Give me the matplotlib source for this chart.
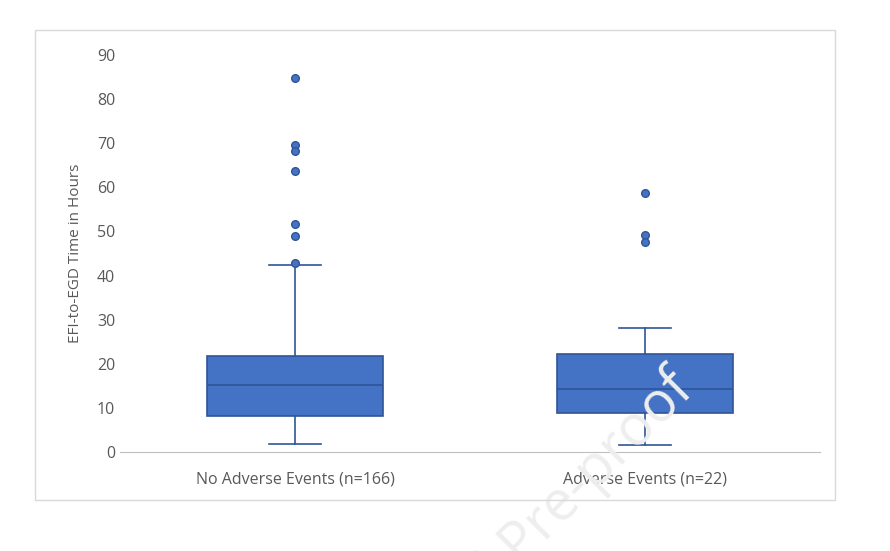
import matplotlib
matplotlib.use("Agg")
import matplotlib.pyplot as plt
from matplotlib.patches import Rectangle

# Box plot summary values (hours)
groups = ["No Adverse Events (n=166)", "Adverse Events (n=22)"]
q1 = [8.1, 8.8]
medians = [15.3, 14.3]
q3 = [21.8, 22.3]
whisker_lo = [1.8, 1.5]
whisker_hi = [42.3, 28.0]
outliers = [
    [84.8, 69.7, 68.2, 63.8, 51.8, 49.0, 42.8],
    [58.8, 49.2, 47.5],
]

FILL = "#4472C4"
EDGE = "#2F5597"
TEXT = "#595959"

plt.rcParams["font.family"] = ["Open Sans", "DejaVu Sans"]

fig = plt.figure(figsize=(8.9, 5.51), dpi=100)
ax = fig.add_axes([120 / 890, 1 - 452 / 551, 700 / 890, 397 / 551])

stats = []
for i, name in enumerate(groups):
    stats.append({
        "label": name, "q1": q1[i], "med": medians[i], "q3": q3[i],
        "whislo": whisker_lo[i], "whishi": whisker_hi[i], "fliers": outliers[i],
    })

ax.bxp(stats, positions=[1, 2], widths=0.505, patch_artist=True,
       boxprops=dict(facecolor=FILL, edgecolor=EDGE, linewidth=1.2),
       medianprops=dict(color=EDGE, linewidth=1.2),
       whiskerprops=dict(color=EDGE, linewidth=1.2),
       capprops=dict(color=EDGE, linewidth=1.2),
       capwidths=0.15,
       flierprops=dict(marker="o", markerfacecolor=FILL, markeredgecolor=EDGE,
                       markersize=5.5))

ax.set_xlim(0.5, 2.5)
ax.set_ylim(0, 90)
ax.set_yticks(range(0, 91, 10))
ax.tick_params(axis="both", length=0, labelsize=11.5, colors=TEXT)
ax.tick_params(axis="x", pad=14)
for s in ["top", "right", "left"]:
    ax.spines[s].set_visible(False)
ax.spines["bottom"].set_color("#BFBFBF")
ax.set_ylabel("EFI-to-EGD Time in Hours", fontsize=11, color=TEXT, labelpad=10)

# chart area border
fig.add_artist(Rectangle((35 / 890, 1 - 500 / 551), 800 / 890, 470 / 551,
                         transform=fig.transFigure, fill=False,
                         edgecolor="#D9D9D9", linewidth=1))

# faint watermark, mostly running off the bottom of the figure
fig.text(0.795, 0.34, "Journal Pre-proof", rotation=45, ha="right", va="top",
         fontsize=40, color="#EEEEEE", zorder=0)

fig.savefig("out.png", dpi=100)
